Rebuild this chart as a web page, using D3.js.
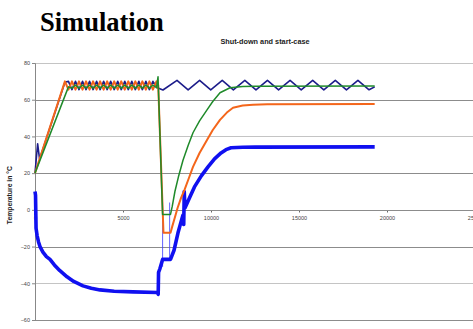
<!DOCTYPE html>
<html>
<head>
<meta charset="utf-8">
<script src="https://cdn.jsdelivr.net/npm/d3@7"></script>
<style>
  body { margin: 0; background: #fff; }
  svg { display: block; }
</style>
</head>
<body>
<svg id="chart"></svg>
<script>
const width = 473;
const height = 329;

// data: [time in s, temperature in °C]
const yTicks = [-60, -40, -20, 0, 20, 40, 60, 80];
const xTicks = [0, 5000, 10000, 15000, 20000, 25000];

const navy = [
  [0, 20], [150, 36], [260, 27.6], [1700, 69.5], [1900, 70], [2100, 65.5], [2300, 70], [2500, 65.5],
  [2700, 70], [2900, 65.5], [3100, 70], [3300, 65.5], [3500, 70], [3700, 65.5], [3900, 70],
  [4100, 65.5], [4300, 70], [4500, 65.5], [4700, 70], [4900, 65.5], [5100, 70], [5300, 65.5],
  [5500, 70], [5700, 65.5], [5900, 70], [6100, 65.5], [6300, 70], [6500, 65.5], [6700, 70],
  [6950, 66.5], [7270, 65.3], [8068, 70.5], [8700, 65.4], [9353, 70.5], [9985, 65.4],
  [10638, 70.5], [11270, 65.4], [11923, 70.5], [12555, 65.4], [13208, 70.5], [13840, 65.4],
  [14493, 70.5], [15125, 65.4], [15778, 70.5], [16410, 65.4], [17063, 70.5], [17695, 65.4],
  [18348, 70.5], [18980, 65.4], [19300, 67]
];

const orange = [
  [0, 20], [1700, 70], [1900, 65.5], [2100, 70], [2300, 65.5], [2500, 70], [2700, 65.5],
  [2900, 70], [3100, 65.5], [3300, 70], [3500, 65.5], [3700, 70], [3900, 65.5], [4100, 70],
  [4300, 65.5], [4500, 70], [4700, 65.5], [4900, 70], [5100, 65.5], [5300, 70], [5500, 65.5],
  [5700, 70], [5900, 65.5], [6100, 70], [6300, 65.5], [6500, 70], [6700, 65.5], [6900, 70],
  [7000, 68], [7300, -12.5], [7700, -12.5], [7800, -9], [7950, -4], [8100, 1], [8300, 6.5],
  [8500, 11], [8750, 17.5], [8977, 23.4], [9350, 31], [9773, 38], [10100, 43.5], [10511, 49],
  [10900, 53], [11250, 55.6], [11800, 56.8], [12386, 57.2], [13200, 57.5], [19300, 57.6]
];

const green = [
  [0, 20], [1900, 67], [2100, 66.3], [2300, 68], [2500, 66.3], [2700, 68], [2900, 66.3],
  [3100, 68], [3300, 66.3], [3500, 68], [3700, 66.3], [3900, 68], [4100, 66.3], [4300, 68],
  [4500, 66.3], [4700, 68], [4900, 66.3], [5100, 68], [5300, 66.3], [5500, 68], [5700, 66.3],
  [5900, 68], [6100, 66.3], [6300, 68], [6500, 66.3], [6700, 68], [6900, 66.5], [6990, 72.5],
  [7250, -2.5], [7700, -2.5], [7800, 2], [7950, 10], [8150, 18], [8409, 27], [8700, 35],
  [8977, 42], [9350, 48.5], [9773, 54.5], [10100, 59], [10511, 63.8], [11080, 66.5],
  [11800, 67.2], [12500, 67.3], [19300, 67.5]
];

const blue = [
  [0, 10], [30, 8], [60, -10], [120, -14], [200, -17.5], [284, -20], [450, -23], [650, -25.5],
  [852, -27], [1100, -30], [1400, -33], [1818, -36.5], [2200, -39], [2727, -41.4], [3200, -42.7],
  [3693, -43.6], [4500, -44.3], [5568, -44.7], [6950, -45], [7000, -46], [7020, -34], [7100, -32],
  [7250, -27], [7700, -27], [7900, -22], [8125, -12.5], [8400, -3], [8450, -8], [8480, 10],
  [8520, 1], [8800, 7], [9060, 12.5], [9450, 18.5], [9830, 23.4], [10200, 27.8], [10570, 31],
  [10850, 32.8], [11140, 33.8], [11800, 34.1], [12500, 34.2], [19300, 34.3]
];

// thin blue marker lines near the minimum: [time, top, bottom]
const blueSpikes = [[7250, 4, -31], [7650, 4, -27]];

const svg = d3.select("#chart")
  .attr("width", width)
  .attr("height", height);

const x = d3.scaleLinear().domain([0, 25000]).range([35, 475]);
const y = d3.scaleLinear().domain([-60, 80]).range([320, 63]);

// title
svg.append("text")
  .attr("x", 40).attr("y", 31)
  .attr("font-family", "Liberation Serif, Times New Roman, serif")
  .attr("font-weight", "bold")
  .attr("font-size", 26.5)
  .text("Simulation");

svg.append("text")
  .attr("x", 265).attr("y", 44)
  .attr("text-anchor", "middle")
  .attr("font-family", "Liberation Sans, Arial, sans-serif")
  .attr("font-weight", "bold")
  .attr("font-size", 7.3)
  .attr("fill", "#222")
  .text("Shut-down and start-case");

// gridlines, every other one darker as in the picture
svg.append("g")
  .selectAll("line")
  .data(yTicks.filter(d => d !== 0))
  .enter().append("line")
  .attr("x1", x(0)).attr("x2", width)
  .attr("y1", d => Math.round(y(d)) + 0.5)
  .attr("y2", d => Math.round(y(d)) + 0.5)
  .attr("stroke", d => Math.abs(d / 20) % 2 === 1 ? "#8c8c8c" : "#c4c4c4")
  .attr("stroke-width", 1.2);

// y axis
const yAxis = svg.append("g")
  .attr("transform", `translate(${x(0)},0)`)
  .call(d3.axisLeft(y).tickValues(yTicks).tickSize(3).tickPadding(2));
yAxis.select(".domain").attr("stroke", "#888");
yAxis.selectAll(".tick line").attr("stroke", "#888");
yAxis.selectAll("text")
  .attr("font-family", "Liberation Sans, Arial, sans-serif")
  .attr("font-size", 5.5)
  .attr("fill", "#444");

// x axis on the zero line
const xAxis = svg.append("g")
  .attr("transform", `translate(0,${Math.round(y(0)) + 0.5})`)
  .call(d3.axisBottom(x).tickValues(xTicks).tickFormat(d3.format("d")).tickSize(2).tickPadding(4));
xAxis.select(".domain").remove();
svg.append("line")
  .attr("x1", x(0)).attr("x2", width)
  .attr("y1", Math.round(y(0)) + 0.5).attr("y2", Math.round(y(0)) + 0.5)
  .attr("stroke", "#8c8c8c").attr("stroke-width", 1.2);
xAxis.selectAll(".tick line").attr("stroke", "#666");
xAxis.selectAll("text")
  .attr("font-family", "Liberation Sans, Arial, sans-serif")
  .attr("font-size", 5.5)
  .attr("fill", "#444");

svg.append("text")
  .attr("transform", `translate(12,${y(8)}) rotate(-90)`)
  .attr("text-anchor", "middle")
  .attr("font-family", "Liberation Sans, Arial, sans-serif")
  .attr("font-weight", "bold")
  .attr("font-size", 6.8)
  .attr("fill", "#222")
  .text("Temperature in °C");

const line = d3.line()
  .x(d => x(d[0]))
  .y(d => y(d[1]));

svg.append("path").datum(navy)
  .attr("d", line).attr("fill", "none")
  .attr("stroke", "#1c1c8a").attr("stroke-width", 1.6).attr("stroke-linejoin", "round");

svg.append("g")
  .selectAll("line")
  .data(blueSpikes)
  .enter().append("line")
  .attr("x1", d => x(d[0])).attr("x2", d => x(d[0]))
  .attr("y1", d => y(d[1])).attr("y2", d => y(d[2]))
  .attr("stroke", "#3a3aff").attr("stroke-width", 0.8);

svg.append("path").datum(blue)
  .attr("d", line).attr("fill", "none")
  .attr("stroke", "#1010f0").attr("stroke-width", 3.6).attr("stroke-linejoin", "round");

svg.append("path").datum(orange)
  .attr("d", line).attr("fill", "none")
  .attr("stroke", "#f4661b").attr("stroke-width", 2).attr("stroke-linejoin", "round");

svg.append("path").datum(green)
  .attr("d", line).attr("fill", "none")
  .attr("stroke", "#1f8a2a").attr("stroke-width", 1.5).attr("stroke-linejoin", "round");
</script>
</body>
</html>
